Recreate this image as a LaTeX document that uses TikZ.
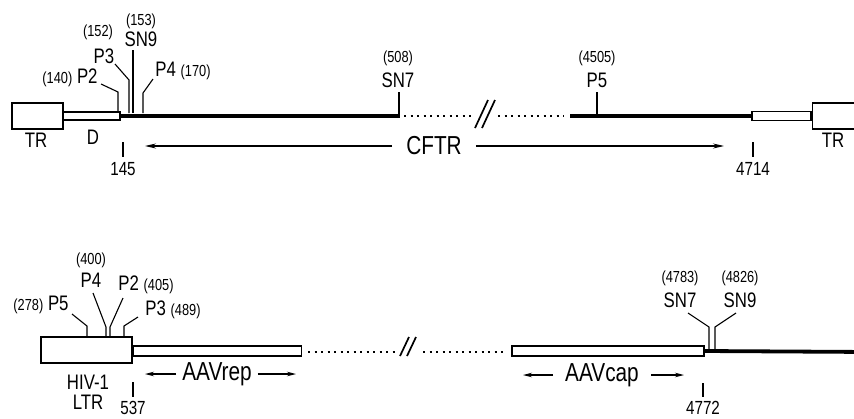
\documentclass[tikz,border=0pt]{standalone}
\usepackage{fontspec}
\setmainfont{Liberation Sans}[FakeStretch=0.8]
\usepackage{tikz}
\usetikzlibrary{positioning, calc, arrows.meta}

\newcommand{\numsize}{\fontsize{16}{18}\selectfont}
\newcommand{\possize}{\fontsize{19}{22}\selectfont}
\newcommand{\labsize}{\fontsize{21}{24}\selectfont}
\newcommand{\bigsize}{\fontsize{26}{30}\selectfont}

\begin{document}
\begin{tikzpicture}[x=1pt, y=-1pt, >={Stealth[length=11pt, width=5pt]},
    thin line/.style={line width=1.1pt},
    slash/.style={line width=1.7pt},
    dna/.style={line width=3.8pt},
    gap/.style={line width=2.6pt, dash pattern=on 2.4pt off 4.1pt},
    box/.style={draw, line width=1.4pt, inner sep=0pt, fill=white},
    lab/.style={inner sep=0pt, font=\labsize},
    num/.style={inner sep=0pt, font=\numsize},
    coord/.style={inner sep=0pt, font=\possize},
    big/.style={inner sep=0pt, font=\bigsize}]

    \useasboundingbox (0,0) rectangle (854,418);

    % --- Top construct: TR - D - CFTR - D - TR ---
    \node[box, minimum width=51pt, minimum height=26pt] (TRL) at (37.5,116) {};
    \node[box, minimum width=57pt, minimum height=8pt] (DL) at (91.5,116) {};
    \node[box, minimum width=59pt, minimum height=9pt] (DR) at (781.5,116) {};
    \node[box, minimum width=60pt, minimum height=26pt, anchor=west] (TRR) at (DR.east) {};

    \coordinate (SN7top) at (399,116);
    \coordinate (P5top) at (597,116);
    \draw[dna] (DL.east) -- (400,116);
    \draw[dna] (570,116) -- (DR.west);
    \draw[gap] (404,116) -- (472,116);
    \draw[gap] (498,116) -- (564,116);
    \draw[slash] (475,128) -- (488,100);
    \draw[slash] (482,128) -- (495,100);

    % --- Top site labels ---
    \node[lab] (P2a) at (70,78) {{\numsize(140)} P2};
    \node[num] (n152) at (98,32) {(152)};
    \node[lab] (P3a) at (104,56) {P3};
    \node[num] (n153) at (141,21) {(153)};
    \node[lab] (SN9a) at (141,39) {SN9};
    \node[lab] (P4a) at (183,71) {P4 {\numsize(170)}};
    \node[num] (n508) at (398,58) {(508)};
    \node[lab] (SN7a) at (398,80) {SN7};
    \node[num] (n4505) at (597,58) {(4505)};
    \node[lab] (P5a) at (597,80) {P5};

    \draw[thin line] (118,112) -- (118,92) -- (101,84);
    \draw[thin line] (129,113) -- (129,80) -- (115,64);
    \draw[thin line] (133,113) -- (133,50);
    \draw[thin line] (143,113) -- (143,93) -- (153,79);
    \draw[thin line] (SN7top) -- (399,92);
    \draw[thin line] (P5top) -- (597,92);

    % --- Top lower labels and CFTR arrow ---
    \node[lab] (TRa) at (36,140) {TR};
    \node[lab] (Da) at (93,137) {D};
    \node[lab] (TRb) at (833,140) {TR};
    \draw[thin line] (123,142) -- (123,157);
    \node[coord] (n145) at (123,169) {145};
    \draw[thin line] (753,142) -- (753,157);
    \node[coord] (n4714) at (753,169) {4714};

    \node[big, inner xsep=14pt] (CFTR) at (434,146) {CFTR};
    \coordinate (cftrL) at (145,146);
    \coordinate (cftrR) at (724,146);
    \draw[thin line, ->] (CFTR.west) -- (cftrL);
    \draw[thin line, ->] (CFTR.east) -- (cftrR);

    % --- Bottom construct: HIV-1 LTR - AAVrep ... AAVcap ---
    \node[box, minimum width=91pt, minimum height=26pt] (LTR) at (86.5,350) {};
    \node[box, minimum width=168pt, minimum height=10pt, anchor=west] (REP) at (LTR.east |- 0,351) {};
    \node[box, minimum width=192pt, minimum height=10pt] (CAP) at (608,351) {};
    \draw[dna] (CAP.east) -- (870,352);
    \draw[gap] (308,352) -- (398,352);
    \draw[gap] (423,352) -- (504,352);
    \draw[slash] (400,356) -- (409,337);
    \draw[slash] (407,356) -- (416,337);

    % --- Bottom site labels ---
    \node[lab] (P5b) at (41,305) {{\numsize(278)} P5};
    \node[num] (n400) at (91,260) {(400)};
    \node[lab] (P4b) at (91,280) {P4};
    \node[lab] (P2b) at (146,285) {P2 {\numsize(405)}};
    \node[lab] (P3b) at (173,310) {P3 {\numsize(489)}};
    \node[num] (n4783) at (680,278) {(4783)};
    \node[lab] (SN7b) at (680,300) {SN7};
    \node[num] (n4826) at (740,278) {(4826)};
    \node[lab] (SN9b) at (740,300) {SN9};

    \draw[thin line] (87,337) -- (87,326) -- (72,314);
    \draw[thin line] (106,337) -- (106,327) -- (93,293);
    \draw[thin line] (110,337) -- (110,327) -- (123,298);
    \draw[thin line] (124,337) -- (124,326) -- (138,317);
    \draw[thin line] (709,351) -- (709,327) -- (688,313);
    \draw[thin line] (715,351) -- (715,327) -- (736,313);

    % --- Bottom lower labels and arrows ---
    \node[lab] (HIV) at (88,382) {HIV-1};
    \node[lab] (LTRa) at (88,402) {LTR};
    \draw[thin line] (133,382) -- (133,397);
    \node[coord] (n537) at (133,408) {537};
    \draw[thin line] (703,383) -- (703,397);
    \node[coord] (n4772) at (703,408) {4772};

    \node[big, inner xsep=6pt] (AAVrep) at (217,374) {AAVrep};
    \coordinate (repL) at (145,374);
    \coordinate (repR) at (296,374);
    \draw[thin line, -{Stealth[length=9pt, width=4.5pt]}] (AAVrep.west) -- (repL);
    \draw[thin line, -{Stealth[length=9pt, width=4.5pt]}] (AAVrep.east) -- (repR);

    \node[big, inner xsep=12pt] (AAVcap) at (602,375) {AAVcap};
    \coordinate (capL) at (523,375);
    \coordinate (capR) at (684,375);
    \draw[thin line, -{Stealth[length=9pt, width=4.5pt]}] (AAVcap.west) -- (capL);
    \draw[thin line, -{Stealth[length=9pt, width=4.5pt]}] (AAVcap.east) -- (capR);

\end{tikzpicture}
\end{document}
